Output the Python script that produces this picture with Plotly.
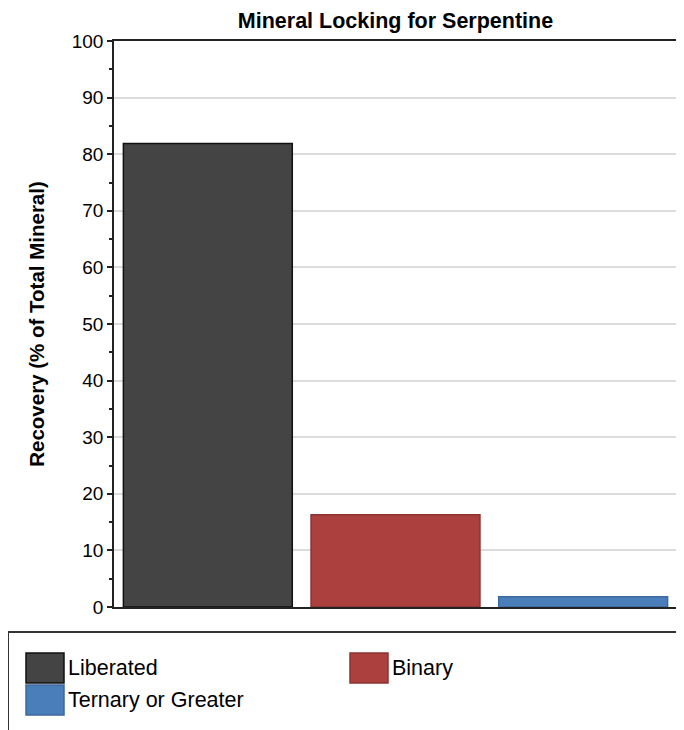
import plotly.graph_objects as go

# ---- data ----
categories = ["Liberated", "Binary", "Ternary or Greater"]
recovery = [81.9, 16.3, 1.8]
fill_colors = ["#444444", "#ab403e", "#4a7ebb"]
edge_colors = ["#111111", "#8a3331", "#3d6a9e"]
y_ticks = [0, 10, 20, 30, 40, 50, 60, 70, 80, 90, 100]

title_text = "Mineral Locking for Serpentine"
y_title = "Recovery (% of Total Mineral)"

# ---- layout geometry (pixels, in the 684x730 window) ----
WIN_W, WIN_H = 684, 730
OFF = 8  # page body margin of the browser
FIG_W, FIG_H = WIN_W - OFF, WIN_H - OFF
L, R, T, B = 114, 677, 41, 607  # plot area in window pixels
PW, PH = R - L, B - T


def px_x(x):
    return (x - L) / PW


def px_y(y):
    return (B - y) / PH


fig = go.Figure()
fig.add_trace(go.Bar(
    x=categories,
    y=recovery,
    marker=dict(color=fill_colors, line=dict(color=edge_colors, width=1.5)),
    showlegend=False,
    hoverinfo="x+y",
))

font_family = "Liberation Sans, Arial, sans-serif"

fig.update_layout(
    width=FIG_W,
    height=FIG_H,
    margin=dict(l=L - OFF, r=WIN_W - R, t=T - OFF, b=WIN_H - B, pad=0),
    paper_bgcolor="white",
    plot_bgcolor="white",
    bargap=0.1,
    font=dict(family=font_family, color="#000000"),
    title=dict(
        text=title_text,
        x=px_x((L + R) / 2), xref="paper", xanchor="center",
        y=1 - (20 - OFF) / FIG_H, yref="container", yanchor="middle",
        font=dict(size=21.5, weight="bold", color="#000000", family=font_family),
    ),
    xaxis=dict(
        showticklabels=False,
        ticks="",
        showgrid=False,
        showline=True,
        linecolor="#222222",
        linewidth=1.5,
        mirror=True,
        fixedrange=True,
    ),
    yaxis=dict(
        range=[0, 100],
        tickvals=y_ticks,
        ticks="outside",
        ticklen=5,
        tickwidth=1.5,
        tickcolor="#222222",
        tickfont=dict(size=19, color="#000000"),
        showgrid=True,
        gridcolor="#dcdcdc",
        gridwidth=1.5,
        showline=True,
        linecolor="#222222",
        linewidth=1.5,
        mirror=True,
        zeroline=False,
        automargin=False,
        minor=dict(dtick=5, ticks="outside", ticklen=3, tickwidth=1.5,
                   tickcolor="#222222", showgrid=False),
        title=dict(text=y_title, standoff=22,
                   font=dict(size=20.5, weight="bold", color="#000000")),
    ),
)

# ---- legend box drawn below the plot ----
fig.add_shape(
    type="rect", xref="paper", yref="paper",
    x0=px_x(8), x1=px_x(700), y0=px_y(632), y1=px_y(745),
    line=dict(color="#333333", width=2), fillcolor="rgba(0,0,0,0)",
    layer="above",
)

legend_slots = [(26, 653), (350, 653), (26, 685)]
for name, fc, ec, (sx, sy) in zip(categories, fill_colors, edge_colors, legend_slots):
    fig.add_shape(
        type="rect", xref="paper", yref="paper",
        x0=px_x(sx), x1=px_x(sx + 38), y0=px_y(sy + 30), y1=px_y(sy),
        fillcolor=fc, line=dict(color=ec, width=1.5), layer="above",
    )
    fig.add_annotation(
        xref="paper", yref="paper",
        x=px_x(sx + 40), y=px_y(sy + 15),
        xanchor="left", yanchor="middle",
        text=name, showarrow=False,
        font=dict(size=21.5, color="#000000", family=font_family),
    )

fig.write_html("out.html")
